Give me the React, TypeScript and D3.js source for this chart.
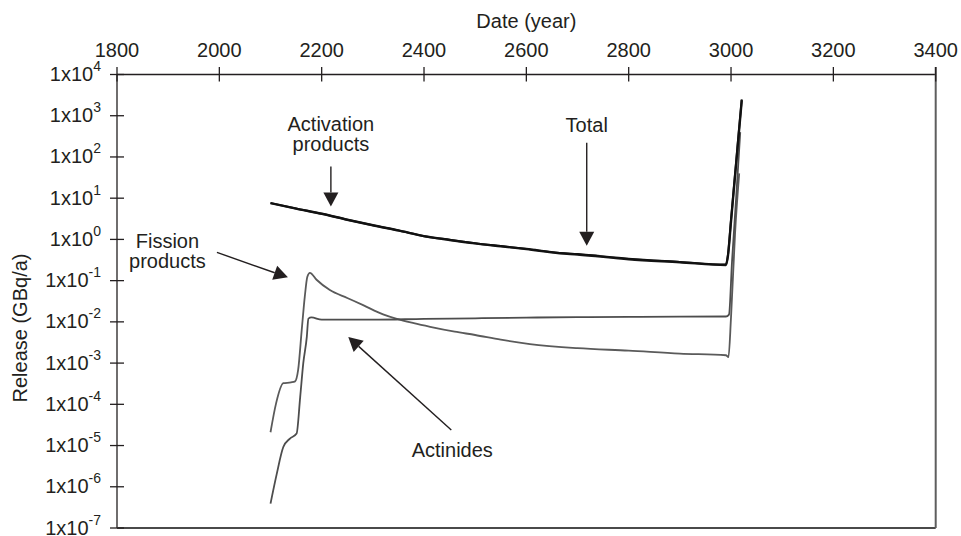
import React from 'react';
import * as d3 from 'd3';

// ---- data ----
const yearTicks = [1800, 2000, 2200, 2400, 2600, 2800, 3000, 3200, 3400];
const decadeExps = [4, 3, 2, 1, 0, -1, -2, -3, -4, -5, -6, -7];

const activationYears = [2100, 2150, 2200, 2250, 2300, 2350, 2400, 2450, 2500, 2550, 2600, 2665, 2700, 2800, 2900, 2990, 2994, 3000, 3005, 3010, 3015, 3021];
const activationValues = [7.6, 5.6, 4.2, 3.0, 2.2, 1.65, 1.2, 0.97, 0.8, 0.68, 0.58, 0.46, 0.43, 0.33, 0.28, 0.24, 0.4, 2.75, 14, 69, 350, 2400];

const totalYears = [2100, 2150, 2200, 2250, 2300, 2350, 2400, 2450, 2500, 2550, 2600, 2665, 2700, 2800, 2900, 2990, 2994, 3000, 3005, 3010, 3015, 3021];
const totalValues = [7.6, 5.6, 4.2, 3.0, 2.2, 1.65, 1.2, 0.98, 0.81, 0.69, 0.59, 0.47, 0.44, 0.34, 0.285, 0.245, 0.42, 3, 15, 75, 380, 2500];

const fissionYears = [2100, 2111, 2125, 2140, 2148, 2154, 2161, 2167, 2172, 2177, 2190, 2216, 2250, 2281, 2320, 2347, 2380, 2412, 2460, 2500, 2550, 2607, 2700, 2800, 2900, 2990, 2995, 3000, 3008, 3016];
const fissionValues = [2.1e-5, 1.07e-4, 3.25e-4, 3.4e-4, 3.6e-4, 6.8e-4, 6.3e-3, 0.041, 0.124, 0.155, 0.105, 0.059, 0.038, 0.0255, 0.0152, 0.0118, 0.0093, 0.0076, 0.0058, 0.0048, 0.0037, 0.0029, 0.0023, 0.002, 0.0017, 0.00155, 0.0014, 0.013, 1.5, 40];

const actinideYears = [2100, 2112, 2125, 2138, 2151, 2158, 2164, 2171, 2174, 2180, 2200, 2300, 2400, 2500, 2600, 2700, 2800, 2900, 2990, 2996, 3002, 3010, 3018];
const actinideValues = [3.9e-7, 2e-6, 9.2e-6, 1.48e-5, 1.95e-5, 1.5e-4, 9.8e-4, 4.4e-3, 0.012, 0.0128, 0.0113, 0.0113, 0.0118, 0.0122, 0.0127, 0.013, 0.0132, 0.0134, 0.0135, 0.015, 0.3, 10, 400];

// annotations: arrow tip in data space, tail offset and text in pixels
const annotations = [
  { lines: ['Activation', 'products'], tipYear: 2218, tipValue: 6.3, tail: [0, -40], text: [0, -75] },
  { lines: ['Fission', 'products'], tipYear: 2134, tipValue: 0.12, tail: [-71, -25], text: [-120.5, -29] },
  { lines: ['Total'], tipYear: 2718, tipValue: 0.7, tail: [0, -103], text: [0, -114] },
  { lines: ['Actinides'], tipYear: 2252, tipValue: 0.0043, tail: [103, 93], text: [104, 120] },
];

const W = 961;
const H = 536;
const FONT = "'Liberation Sans', Arial, Helvetica, sans-serif";
const INK = '#231f20';

export default function App() {
  const x = d3.scaleLinear().domain([1800, 3400]).range([117, 935.7]);
  const y = d3.scaleLog().domain([1e-7, 1e4]).range([528, 74.5]);
  const line = d3
    .line<[number, number]>()
    .x((d) => x(d[0]))
    .y((d) => y(d[1]))
    .curve(d3.curveMonotoneX);
  const zip = (a: number[], b: number[]) => a.map((v, i) => [v, b[i]] as [number, number]);

  const [x0, x1] = x.range();
  const [yb, yt] = y.range();

  return (
    <svg width={W} height={H} style={{ position: 'absolute', left: 0, top: 0, background: '#fff' }} fontFamily={FONT}>
      <rect x={0} y={0} width={W} height={H} fill="#fff" />
      {/* frame */}
      <line x1={x0} x2={x1} y1={yt} y2={yt} stroke={INK} strokeWidth={1.3} />
      <line x1={x0} x2={x0} y1={yt} y2={yb} stroke={INK} strokeWidth={1.3} />
      <line x1={x0} x2={x1} y1={yb} y2={yb} stroke="#4a4a4a" strokeWidth={2} />
      <line x1={x1} x2={x1} y1={yt - 7.5} y2={yb} stroke="#5e5e5e" strokeWidth={2} />

      {/* top x axis */}
      {yearTicks.map((t) => (
        <g key={t}>
          <line x1={x(t)} x2={x(t)} y1={yt - 7.5} y2={yt + 7} stroke={INK} strokeWidth={1.3} />
          <text x={x(t)} y={56.5} textAnchor="middle" fontSize={20} fill={INK}>
            {t}
          </text>
        </g>
      ))}
      <text x={(x0 + x1) / 2} y={28} textAnchor="middle" fontSize={20} fill={INK}>
        Date (year)
      </text>

      {/* left log axis */}
      {decadeExps.map((e) => {
        const py = y(Math.pow(10, e));
        return (
          <g key={e}>
            <line x1={x0 - 7} x2={x0 + 7} y1={py} y2={py} stroke={INK} strokeWidth={1.3} />
            <text x={101} y={py + 6.5} textAnchor="end" fontSize={20} fill={INK}>
              <tspan>1x10</tspan>
              <tspan fontSize={14} dy={-10}>
                {e}
              </tspan>
            </text>
          </g>
        );
      })}
      <text
        transform={`translate(27, ${328}) rotate(-90)`}
        textAnchor="middle"
        fontSize={20}
        fill={INK}
      >
        Release (GBq/a)
      </text>

      {/* series */}
      <path d={line(zip(fissionYears, fissionValues)) || ''} fill="none" stroke="#5a5a5a" strokeWidth={1.8} strokeLinejoin="round" />
      <path d={line(zip(actinideYears, actinideValues)) || ''} fill="none" stroke="#4d4d4d" strokeWidth={1.8} strokeLinejoin="round" />
      <path d={line(zip(activationYears, activationValues)) || ''} fill="none" stroke="#1a1a1a" strokeWidth={2.4} strokeLinejoin="round" />
      <path d={line(zip(totalYears, totalValues)) || ''} fill="none" stroke="#111" strokeWidth={2} strokeLinejoin="round" />

      {/* annotations */}
      {annotations.map((a, i) => {
        const tx = x(a.tipYear);
        const ty = y(a.tipValue);
        const sx = tx + a.tail[0];
        const sy = ty + a.tail[1];
        const ang = Math.atan2(ty - sy, tx - sx);
        const L = 14;
        const hw = 7.5;
        const bx = tx - L * Math.cos(ang);
        const by = ty - L * Math.sin(ang);
        const px = -Math.sin(ang) * hw;
        const py = Math.cos(ang) * hw;
        const head = `${tx},${ty} ${bx + px},${by + py} ${bx - px},${by - py}`;
        return (
          <g key={i}>
            <line x1={sx} y1={sy} x2={bx} y2={by} stroke={INK} strokeWidth={1.4} />
            <polygon points={head} fill={INK} />
            <text x={tx + a.text[0]} y={ty + a.text[1]} textAnchor="middle" fontSize={20} fill={INK}>
              {a.lines.map((l, j) => (
                <tspan key={j} x={tx + a.text[0]} dy={j === 0 ? 0 : 20}>
                  {l}
                </tspan>
              ))}
            </text>
          </g>
        );
      })}
    </svg>
  );
}
